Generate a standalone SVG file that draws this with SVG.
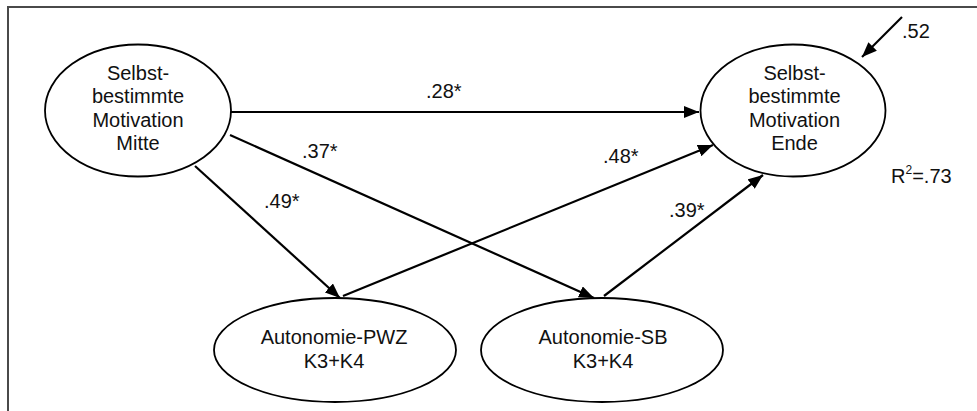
<svg xmlns="http://www.w3.org/2000/svg" width="977" height="411" viewBox="0 0 977 411">
<defs>
<style>
.frame{fill:none;stroke:#4a4a4a;stroke-width:2}
.node{fill:#fff;stroke:#000;stroke-width:1.8}
.t{font-family:"Liberation Sans",Arial,Helvetica,sans-serif;font-size:20px;fill:#111}
.c{text-anchor:middle}
.edge{stroke:#000;stroke-width:2.2;fill:none;marker-end:url(#ah)}
</style>
<marker id="ah" markerUnits="userSpaceOnUse" markerWidth="15" markerHeight="12" refX="15" refY="6" orient="auto">
<path d="M0,0 L15,6 L0,12 z" fill="#000"/>
</marker>
</defs>
<rect width="977" height="411" fill="#fff"/>
<path class="frame" d="M8,411 L8,7 L977,7"/>
<g id="connectors">
<line class="edge" x1="231" y1="112" x2="699" y2="112"/>
<line class="edge" x1="230" y1="135" x2="594" y2="298"/>
<line class="edge" x1="195" y1="166" x2="340" y2="298"/>
<line class="edge" x1="343" y1="296" x2="713" y2="145"/>
<line class="edge" x1="604" y1="296" x2="763" y2="175"/>
<line class="edge" x1="902" y1="17" x2="862" y2="57"/>
</g>
<g id="node-mitte">
<ellipse class="node" cx="138" cy="110.5" rx="93" ry="66"/>
<text class="t c" x="138" y="80">Selbst-</text>
<text class="t c" x="138" y="103">bestimmte</text>
<text class="t c" x="138" y="127">Motivation</text>
<text class="t c" x="138" y="150">Mitte</text>
</g>
<g id="node-ende">
<ellipse class="node" cx="793" cy="110.5" rx="92.5" ry="66"/>
<text class="t c" x="794.5" y="80">Selbst-</text>
<text class="t c" x="794.5" y="103">bestimmte</text>
<text class="t c" x="794.5" y="127">Motivation</text>
<text class="t c" x="794.5" y="150">Ende</text>
</g>
<g id="node-pwz">
<ellipse class="node" cx="335" cy="350" rx="121" ry="52"/>
<text class="t c" x="334" y="344">Autonomie-PWZ</text>
<text class="t c" x="334" y="368">K3+K4</text>
</g>
<g id="node-sb">
<ellipse class="node" cx="602" cy="350" rx="121" ry="52"/>
<text class="t c" x="603" y="344">Autonomie-SB</text>
<text class="t c" x="603" y="368">K3+K4</text>
</g>
<g id="labels">
<text class="t" x="426" y="98">.28*</text>
<text class="t" x="302" y="158">.37*</text>
<text class="t" x="603" y="163">.48*</text>
<text class="t" x="264" y="208">.49*</text>
<text class="t" x="669" y="217">.39*</text>
<text class="t" x="902" y="38">.52</text>
<text class="t" x="891" y="183">R<tspan font-size="12" dy="-9">2</tspan><tspan dy="9">=.73</tspan></text>
</g>
</svg>
